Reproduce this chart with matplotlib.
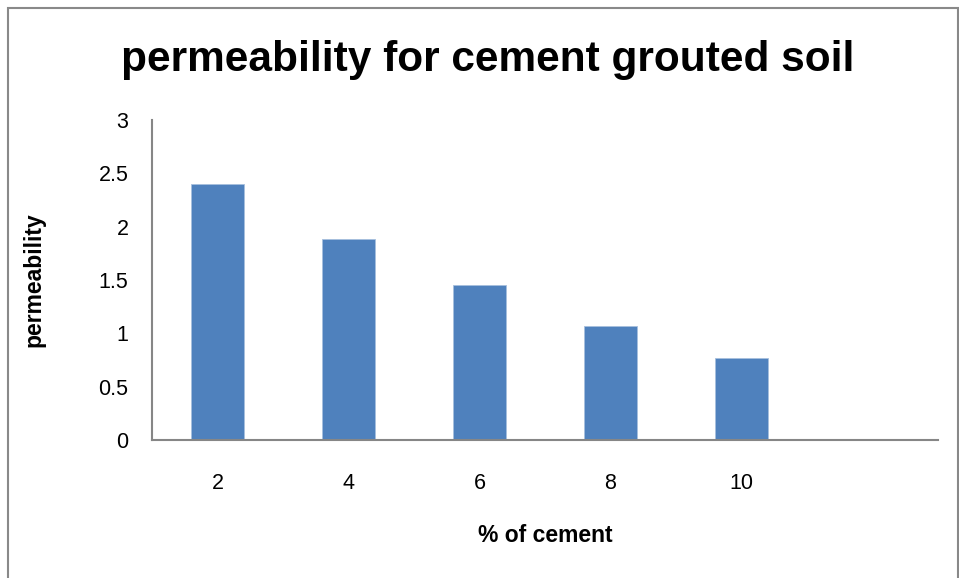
import matplotlib
matplotlib.use('Agg')
import matplotlib.pyplot as plt
from matplotlib.patches import Rectangle

# data
cement = ['2', '4', '6', '8', '10', '']
permeability = [2.40, 1.885, 1.45, 1.07, 0.765, 0]
y_ticks = [0, 0.5, 1, 1.5, 2, 2.5, 3]
y_tick_labels = ['0', '0.5', '1', '1.5', '2', '2.5', '3']

plt.rcParams['font.family'] = ['Liberation Sans Narrow', 'Liberation Sans', 'DejaVu Sans']

fig = plt.figure(figsize=(9.59, 5.78), dpi=100)
ax = fig.add_axes([152 / 959, 138 / 578, 786 / 959, 320 / 578])

# outer chart border
fig.patches.append(Rectangle((8 / 959, -0.01), 949.5 / 959, 570 / 578 + 0.01,
                             transform=fig.transFigure, fill=False,
                             edgecolor='#898989', linewidth=1.5))

x = list(range(len(cement)))
ax.bar(x[:5], permeability[:5], width=0.4, color='#4f81bd',
       edgecolor='#a7bfde', linewidth=0.6)
ax.set_xlim(-0.5, len(cement) - 0.5)
ax.set_ylim(0, 3)

ax.set_xticks(x)
ax.set_xticklabels(cement, fontsize=15.5)
ax.set_yticks(y_ticks)
ax.set_yticklabels(y_tick_labels, fontsize=15.5)
ax.tick_params(axis='both', length=0)
ax.tick_params(axis='y', pad=17)
ax.tick_params(axis='x', pad=24)

for s in ['top', 'right']:
    ax.spines[s].set_visible(False)
for s in ['left', 'bottom']:
    ax.spines[s].set_color('#868686')
    ax.spines[s].set_linewidth(1.5)

ax.set_xlabel('% of cement', fontsize=16.5, fontweight='bold', labelpad=21)
ax.set_ylabel('permeability', fontsize=16.5, fontweight='bold', labelpad=38)

fig.text(488 / 959, 1 - 60 / 578, 'permeability for cement grouted soil',
         ha='center', va='center', fontsize=30.5, fontweight='bold')

fig.savefig('out.png', dpi=100)
